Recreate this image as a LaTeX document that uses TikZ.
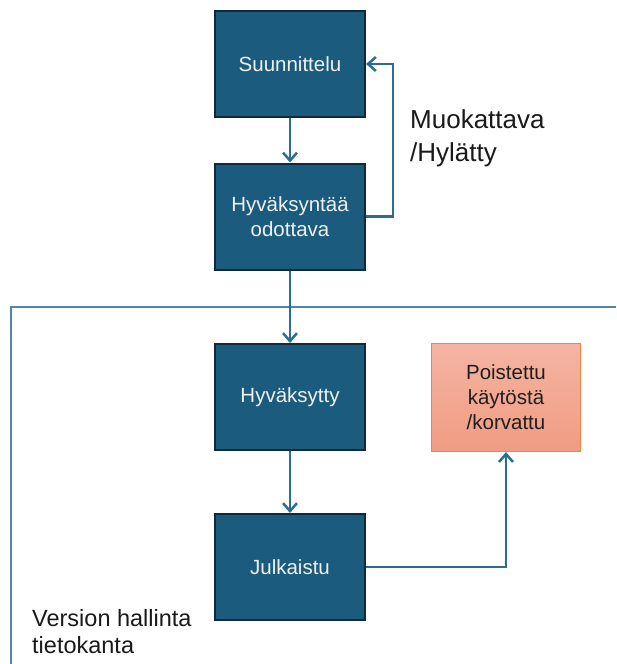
\documentclass[tikz,border=0pt]{standalone}
\usepackage{fontspec}
\setmainfont{Liberation Sans}
\usetikzlibrary{arrows.meta}
\definecolor{boxfill}{HTML}{1B5C7E}
\definecolor{boxborder}{HTML}{0E2B3C}
\definecolor{arrcol}{HTML}{2B6E94}
\definecolor{contcol}{HTML}{4F86A6}
\definecolor{salmontop}{HTML}{F5B4A3}
\definecolor{salmonbot}{HTML}{F09C82}
\definecolor{salmonborder}{HTML}{F08545}
\tikzset{
  bluebox/.style={draw=boxborder, line width=2pt, fill=boxfill, text=white!94!black,
    minimum width=150pt, minimum height=106pt, align=center,
    font=\fontsize{20.5pt}{25pt}\selectfont, inner sep=0pt},
  salmonbox/.style={draw=salmonborder, line width=1.2pt, top color=salmontop, bottom color=salmonbot,
    minimum width=149pt, minimum height=108pt, align=center, text=black!88,
    font=\fontsize{20.5pt}{25pt}\selectfont, inner sep=0pt},
  arr/.style={draw=arrcol, line width=2.5pt, -{Straight Barb[length=8pt,width=14pt,line width=2.5pt]}},
  contline/.style={draw=contcol, line width=1.5pt},
  lbl/.style={align=left, text=black!90, inner sep=0pt}
}
\begin{document}
\begin{tikzpicture}[x=1pt,y=-1pt]
\useasboundingbox (0,0) rectangle (616,664);
\draw[contline] (616,307) -- (11,307) -- (11,664);
\node[bluebox] (s) at (290,64) {Suunnittelu};
\node[bluebox] (h) at (290,216.5) {Hyväksyntää\\odottava};
\node[bluebox] (y) at (290,397) {Hyväksytty};
\node[bluebox] (j) at (290,567) {Julkaistu};
\node[salmonbox] (p) at (506,397.5) {Poistettu\\käytöstä\\/korvattu};
\node[lbl, anchor=west, font=\fontsize{26pt}{33pt}\selectfont] (m) at (410,138) {Muokattava\\/Hylätty};
\node[lbl, anchor=west, font=\fontsize{23.5pt}{27pt}\selectfont] (v) at (32,632) {Version hallinta\\tietokanta};
\draw[arr] (s) -- (h);
\draw[arr] (h.east) -- ++(27,0) |- (s.east);
\draw[arr] (h) -- (y);
\draw[arr] (y) -- (j);
\draw[arr] (j.east) -| (p.south);
\end{tikzpicture}
\end{document}
